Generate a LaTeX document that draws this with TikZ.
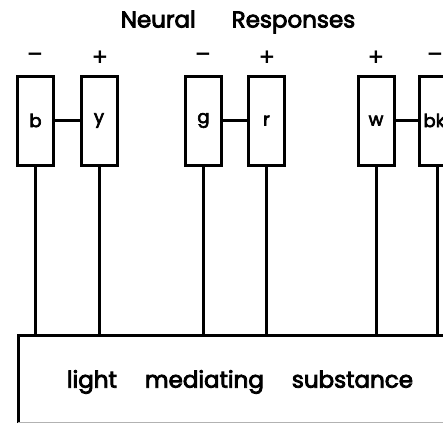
\documentclass[tikz,border=0pt]{standalone}
\usepackage{fontspec}
\setmainfont{Poppins}[AutoFakeBold=3.5]
\newfontfamily\dvfont{DejaVu Sans Bold}
\begin{document}
\begin{tikzpicture}[x=1pt,y=-1pt,
  cell/.style={draw,line width=3pt,minimum width=36pt,minimum height=89pt,inner sep=0pt,font=\fontsize{18}{18}\selectfont\bfseries},
  sign/.style={font=\fontsize{20}{20}\selectfont\dvfont},
  wire/.style={line width=3pt},
  caption/.style={font=\fontsize{23}{23}\selectfont\bfseries}]
\useasboundingbox (0,0) rectangle (443,423);
\node[caption] (title) at (238,22) {Neural\hspace{36pt}Responses};
\node[cell] (b) at (35.5,120.5) {\raisebox{-4pt}{b}};
\node[cell] (y) at (99,120.5) {\raisebox{-4pt}{y}};
\node[cell] (g) at (203.5,120.5) {\raisebox{-4pt}{g}};
\node[cell] (r) at (266.5,120.5) {\raisebox{-4pt}{r}};
\node[cell] (w) at (376,120.5) {\raisebox{-4pt}{w}};
\node[cell] (bk) at (437,120.5) {\makebox[36pt][l]{\hspace{4.5pt}\raisebox{-4pt}{bk}}};
\node[sign] (sb) at (35,57) {−};
\node[sign] (sy) at (100,57) {+};
\node[sign] (sg) at (203,57) {−};
\node[sign] (sr) at (267,57) {+};
\node[sign] (sw) at (376,57) {+};
\node[sign] (sbk) at (435,57) {−};
\draw[wire] (b) -- (y);
\draw[wire] (g) -- (r);
\draw[wire] (w) -- (bk);
\draw[line width=3pt] (18,423) -- (18,335) -- (460,335);
\draw[gray!60,line width=0.8pt] (18,422.5) -- (443,422.5);
\coordinate (sa) at (35.5,335);
\coordinate (sbb) at (99,335);
\coordinate (sc) at (203.5,335);
\coordinate (sd) at (266.5,335);
\coordinate (se) at (376,335);
\coordinate (sf) at (437,335);
\draw[wire] (b.south) -- (sa);
\draw[wire] (y.south) -- (sbb);
\draw[wire] (g.south) -- (sc);
\draw[wire] (r.south) -- (sd);
\draw[wire] (w.south) -- (se);
\draw[wire] (bk.south) -- (sf);
\node[caption] (txt) at (240,382) {light\hspace{28pt}mediating\hspace{28pt}substance};
\end{tikzpicture}
\end{document}
